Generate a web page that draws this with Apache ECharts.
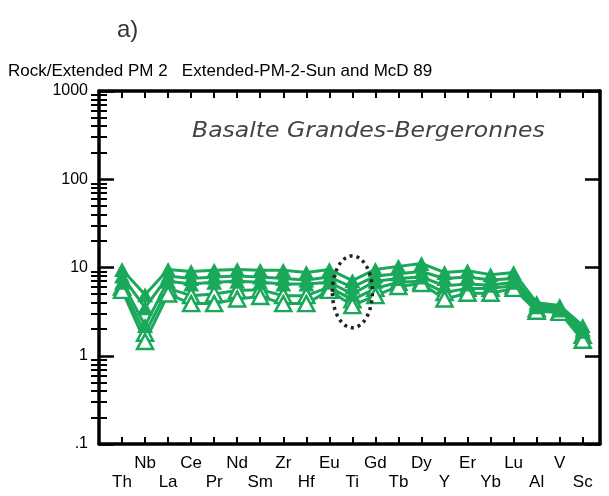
<!DOCTYPE html>
<html><head><meta charset="utf-8">
<script src="https://cdn.jsdelivr.net/npm/echarts@6/dist/echarts.min.js"></script>
<style>html,body{margin:0;padding:0;background:#fff}#c{width:609px;height:496px}</style>
</head><body><div id="c"></div>
<script>
const elements = ['Th','Nb','La','Ce','Pr','Nd','Sm','Zr','Hf','Eu','Ti','Gd','Tb','Dy','Y','Er','Yb','Lu','Al','V','Sc'];
const yTickValues = [0.1, 1, 10, 100, 1000];
const yTickLabels = ['.1', '1', '10', '100', '1000'];
const yMinorTicks = [0.2,0.3,0.4,0.5,0.6,0.7,0.8,0.9, 2,3,4,5,6,7,8,9, 20,30,40,50,60,70,80,90, 200,300,400,500,600,700,800,900];

const sampleA = [9.5, 4.9, 9.5, 9.0, 9.3, 9.5, 9.3, 9.3, 8.8, 9.5, 7.1, 9.5, 10.3, 11.1, 8.8, 9.2, 8.3, 8.8, 4.0, 3.7, 2.2];
const sampleB = [8.0, 3.5, 8.0, 7.5, 7.8, 8.0, 7.8, 7.5, 7.2, 7.8, 6.0, 8.0, 8.5, 9.0, 7.5, 7.8, 7.2, 7.5, 3.8, 3.5, 2.0];
const sampleC = [6.8, 2.2, 7.0, 6.5, 6.8, 7.0, 6.8, 6.5, 6.5, 6.8, 5.0, 7.0, 7.5, 7.8, 6.2, 6.5, 6.3, 6.8, 3.6, 3.3, 1.9];
const sampleD = [6.0, 1.8, 5.8, 4.8, 5.0, 5.5, 5.6, 4.8, 4.8, 6.0, 4.3, 5.8, 6.8, 7.0, 5.2, 5.8, 5.8, 6.2, 3.4, 3.2, 1.7];
const sampleE = [5.5, 1.45, 5.0, 3.9, 3.9, 4.4, 4.7, 3.9, 3.9, 5.5, 3.7, 4.8, 6.1, 6.6, 4.4, 5.1, 5.1, 5.8, 3.2, 3.1, 1.5];
const filledSamples = [sampleA, sampleB, sampleC];
const hollowSamples = [sampleD, sampleE];

const GREEN = '#1aa85b';
const FONT = 'Liberation Sans, Arial, sans-serif';

const chart = echarts.init(document.getElementById('c'), null, {renderer: 'canvas'});

function mkSeries(vals, hollow) {
  return {
    type: 'line', xAxisIndex: 0, yAxisIndex: 0,
    data: vals.map((v, i) => [i + 1, v]),
    symbol: 'triangle', symbolSize: [16, 15],
    lineStyle: {color: GREEN, width: 3},
    itemStyle: hollow ? {color: '#fff', borderColor: GREEN, borderWidth: 2.5} : {color: GREEN},
    animation: false, silent: true
  };
}

const axisLine = {show: true, onZero: false, lineStyle: {color: '#000', width: 3.5}};
const xRange = {min: 0, max: 21.75, interval: 1};

const option = {
  animation: false,
  title: [
    {text: 'a)', left: 117, top: 18, padding: 0, textStyle: {fontSize: 24, fontWeight: 'normal', color: '#333', fontFamily: FONT}},
    {text: 'Rock/Extended PM 2   Extended-PM-2-Sun and McD 89', left: 8, top: 63, padding: 0, textStyle: {fontSize: 17, fontWeight: 'normal', color: '#000', fontFamily: FONT}}
  ],
  grid: {left: 99, right: 9, top: 91, bottom: 52, containLabel: false},
  xAxis: [
    Object.assign({type: 'value', position: 'bottom', axisLine,
      axisTick: {show: true, inside: true, length: 7, lineStyle: {color: '#000', width: 2}},
      axisLabel: {show: true, margin: 10, fontSize: 17, lineHeight: 19, color: '#000', fontFamily: FONT,
        formatter: v => {
          if (Math.abs(v - Math.round(v)) > 1e-6) return '';
          const i = Math.round(v) - 1;
          if (i < 0 || i >= elements.length) return '';
          return i % 2 === 0 ? '\n' + elements[i] : elements[i] + '\n';
        }},
      splitLine: {show: false}}, xRange),
    Object.assign({type: 'value', position: 'top', axisLine,
      axisTick: {show: true, inside: true, length: 7, lineStyle: {color: '#000', width: 2}},
      axisLabel: {show: false}, splitLine: {show: false}}, xRange)
  ],
  yAxis: [
    {type: 'log', logBase: 10, min: 0.1, max: 1000, position: 'left', axisLine,
      axisTick: {show: true, inside: true, length: 15, lineStyle: {color: '#000', width: 2.5}},
      axisLabel: {show: true, margin: 11, fontSize: 16, color: '#000', fontFamily: FONT,
        formatter: v => { const k = yTickValues.findIndex(t => Math.abs(t - v) / t < 1e-6); return k >= 0 ? yTickLabels[k] : ''; }},
      splitLine: {show: false}, minorTick: {show: false}},
    {type: 'log', logBase: 10, min: 0.1, max: 1000, position: 'right', axisLine,
      axisTick: {show: true, inside: true, length: 15, lineStyle: {color: '#000', width: 2.5}},
      axisLabel: {show: false}, splitLine: {show: false}},
    {type: 'log', logBase: 10, min: 0.1, max: 1000, position: 'left', axisLine: {show: false},
      axisTick: {show: true, inside: true, length: 8, customValues: yMinorTicks, lineStyle: {color: '#000', width: 2}},
      axisLabel: {show: false}, splitLine: {show: false}},
    {type: 'log', logBase: 10, min: 0.1, max: 1000, position: 'right', axisLine: {show: false},
      axisTick: {show: true, inside: true, length: 8, customValues: yMinorTicks, lineStyle: {color: '#000', width: 2}},
      axisLabel: {show: false}, splitLine: {show: false}}
  ],
  series: [
    ...hollowSamples.map(s => mkSeries(s, true)),
    ...filledSamples.map(s => mkSeries(s, false))
  ]
};
chart.setOption(option);

const tiIndex = elements.indexOf('Ti');
const c = chart.convertToPixel({xAxisIndex: 0, yAxisIndex: 0}, [tiIndex + 1, 5.3]);
chart.setOption({graphic: [
  {type: 'text', left: 192, top: 120, silent: true, z: 50,
    style: {text: 'Basalte Grandes-Bergeronnes', fontSize: 22, fontStyle: 'italic', fontFamily: 'DejaVu Sans', fill: '#444'},
    scaleX: 1.07},
  {type: 'ellipse', z: 100, silent: true,
    shape: {cx: c[0], cy: c[1], rx: 20, ry: 36},
    style: {fill: 'none', stroke: '#222', lineWidth: 3.5, lineDash: [3, 4]}}
]});
</script></body></html>
